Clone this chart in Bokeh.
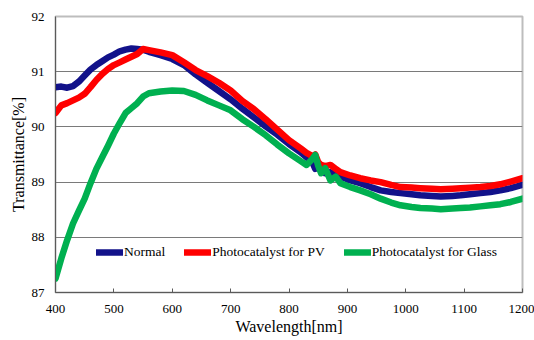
from bokeh.plotting import figure
from bokeh.models import Range1d, FixedTicker, Legend, LegendItem
from bokeh.embed import file_html
from bokeh.resources import INLINE

# ---- data ----
wavelength = [400, 410, 420, 430, 440, 450, 460, 470, 480, 490, 500, 510, 520, 530, 540,
              550, 560, 580, 600, 620, 640, 660, 680, 700, 720, 740, 760, 780, 800, 820,
              830, 840, 845, 850, 855, 862, 871, 880, 888, 905, 922, 940, 957, 975, 991,
              1010, 1025, 1045, 1060, 1080, 1094, 1110, 1128, 1145, 1162, 1180, 1200]

normal = [90.72, 90.73, 90.71, 90.74, 90.82, 90.93, 91.04, 91.12, 91.19, 91.26, 91.31, 91.37,
          91.40, 91.42, 91.41, 91.40, 91.36, 91.30, 91.23, 91.12, 90.95, 90.80, 90.65, 90.50,
          90.33, 90.17, 90.01, 89.86, 89.69, 89.54, 89.45, 89.36, 89.24, 89.28, 89.28, 89.16,
          89.18, 89.12, 89.10, 89.03, 88.98, 88.91, 88.85, 88.82, 88.80, 88.78, 88.76, 88.75,
          88.74, 88.75, 88.76, 88.78, 88.80, 88.82, 88.85, 88.89, 88.95]

pv = [90.25, 90.39, 90.43, 90.48, 90.53, 90.60, 90.72, 90.85, 90.96, 91.05, 91.12, 91.17,
      91.22, 91.27, 91.32, 91.41, 91.39, 91.35, 91.30, 91.17, 91.03, 90.92, 90.80, 90.66,
      90.47, 90.32, 90.14, 89.95, 89.76, 89.61, 89.53, 89.47, 89.50, 89.36, 89.31, 89.29,
      89.31, 89.24, 89.18, 89.12, 89.07, 89.03, 89.00, 88.95, 88.91, 88.90, 88.89, 88.88,
      88.87, 88.88, 88.89, 88.90, 88.91, 88.93, 88.96, 89.01, 89.07]

glass = [87.25, 87.62, 87.95, 88.25, 88.48, 88.70, 88.98, 89.24, 89.45, 89.66, 89.88, 90.07,
         90.25, 90.34, 90.43, 90.55, 90.61, 90.64, 90.66, 90.65, 90.58, 90.48, 90.39, 90.30,
         90.14, 90.00, 89.85, 89.68, 89.52, 89.38, 89.31, 89.42, 89.49, 89.30, 89.16, 89.25,
         89.03, 89.10, 88.98, 88.91, 88.85, 88.78, 88.70, 88.63, 88.58, 88.55, 88.53, 88.52,
         88.51, 88.52, 88.53, 88.54, 88.56, 88.58, 88.60, 88.64, 88.70]

series_names = ["Normal", "Photocatalyst for PV", "Photocatalyst for Glass"]
series_colors = ["#12128a", "#ff0000", "#00b050"]

x_ticks = [400, 500, 600, 700, 800, 900, 1000, 1100, 1200]
y_ticks = [87, 88, 89, 90, 91, 92]

FONT = "Liberation Serif"

p = figure(width=534, height=340, output_backend="svg", toolbar_location=None,
           x_range=Range1d(400, 1200), y_range=Range1d(87, 92),
           min_border_left=55, min_border_right=12, min_border_top=16, min_border_bottom=48)

renderers = []
for ys, c in zip([normal, pv, glass], series_colors):
    r = p.line(wavelength, ys, line_color=c, line_width=6.5, line_cap="round", line_join="round")
    renderers.append(r)

# axes
p.xaxis.ticker = FixedTicker(ticks=x_ticks)
p.yaxis.ticker = FixedTicker(ticks=y_ticks)
p.xaxis.axis_label = "Wavelength[nm]"
p.yaxis.axis_label = "Transmittance[%]"
for ax in (p.xaxis, p.yaxis):
    ax.axis_label_text_font = FONT
    ax.axis_label_text_font_style = "normal"
    ax.axis_label_text_font_size = "16px"
    ax.axis_label_text_color = "black"
    ax.major_label_text_font = FONT
    ax.major_label_text_font_size = "13px"
    ax.major_label_text_color = "black"
    ax.axis_line_color = "#5a5a5a"
    ax.axis_line_width = 1
    ax.minor_tick_line_color = None
    ax.major_tick_line_color = "#5a5a5a"
p.xaxis.major_tick_in = 4
p.xaxis.major_tick_out = 0
p.xaxis.major_label_standoff = 12
p.xaxis.axis_label_standoff = 2
p.yaxis.major_tick_in = 0
p.yaxis.major_tick_out = 0
p.yaxis.major_label_standoff = 11
p.yaxis.axis_label_standoff = 2

p.xgrid.grid_line_color = None
p.ygrid.ticker = FixedTicker(ticks=[88, 89, 90, 91])
p.ygrid.grid_line_color = "#7a7a7a"
p.ygrid.grid_line_width = 1

p.outline_line_color = "#bdbdbd"
p.outline_line_width = 2
p.background_fill_color = "white"
p.border_fill_color = "white"

legend = Legend(items=[LegendItem(label=n, renderers=[r]) for n, r in zip(series_names, renderers)],
                orientation="horizontal", location=(41, 30))
legend.label_text_font = FONT
legend.label_text_font_size = "13.5px"
legend.label_text_color = "black"
legend.label_standoff = 1
legend.glyph_width = 27
legend.glyph_height = 20
legend.spacing = 19
legend.padding = 14
legend.border_line_color = None
legend.background_fill_color = "white"
legend.background_fill_alpha = 1.0
p.add_layout(legend, "center")

open("out.html", "w").write(file_html(p, INLINE))
